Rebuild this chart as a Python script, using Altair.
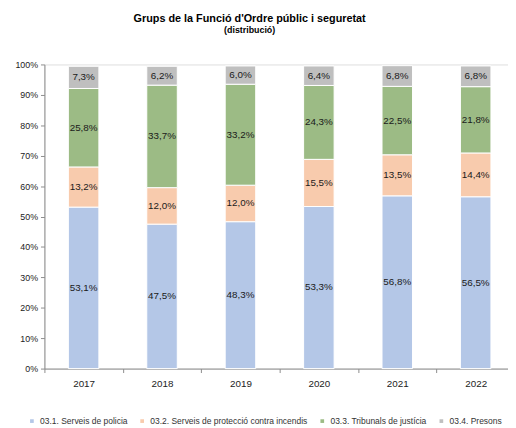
import altair as alt
import pandas as pd

years = ["2017", "2018", "2019", "2020", "2021", "2022"]
categories = [
    "03.1. Serveis de policia",
    "03.2. Serveis de protecció contra incendis",
    "03.3. Tribunals de justícia",
    "03.4. Presons",
]
policia = [53.1, 47.5, 48.3, 53.3, 56.8, 56.5]
incendis = [13.2, 12.0, 12.0, 15.5, 13.5, 14.4]
tribunals = [25.8, 33.7, 33.2, 24.3, 22.5, 21.8]
presons = [7.3, 6.2, 6.0, 6.4, 6.8, 6.8]
colors = ["#b4c7e7", "#f8cbad", "#9cbb85", "#bfbfbf"]
ytick_values = [0, 10, 20, 30, 40, 50, 60, 70, 80, 90, 100]

series = [policia, incendis, tribunals, presons]
rows = []
for ci, (cat, vals) in enumerate(zip(categories, series)):
    for y, v in zip(years, vals):
        rows.append({"year": y, "cat": cat, "ord": ci, "value": v,
                     "label": f"{v:.1f}%".replace(".", ",")})
df = pd.DataFrame(rows)

FONT = "Liberation Sans"
W, H = 471, 309

base = alt.Chart(df).transform_stack(
    stack="value", as_=["y0", "y1"], groupby=["year"],
    sort=[alt.SortField("ord", order="ascending")]
).transform_calculate(mid="(datum.y0 + datum.y1) / 2")

xaxis = alt.Axis(labelAngle=0, tickBand="extent", labelFont=FONT,
                 labelFontSize=10, labelColor="#222", domainColor="#8c8c8c",
                 tickColor="#8c8c8c", tickSize=4, labelPadding=6)
xscale = alt.Scale(paddingInner=0, paddingOuter=0, range=[0, 478])
yaxis = alt.Axis(values=ytick_values, labelExpr="datum.value + '%'", tickCount=11,
                 grid=False, labelFont=FONT, labelFontSize=9, labelColor="#222",
                 domainColor="#8c8c8c", tickColor="#8c8c8c", tickSize=4,
                 labelPadding=3, labelOverlap=False)
yscale = alt.Scale(domain=[0, 100], nice=False)

bars = base.mark_bar(size=31, stroke="white", strokeWidth=1).encode(
    x=alt.X("year:N", title=None, sort=years, scale=xscale, axis=xaxis),
    y=alt.Y("y0:Q", title=None, scale=yscale, axis=yaxis),
    y2="y1:Q",
    color=alt.Color("cat:N", scale=alt.Scale(domain=categories, range=colors),
                    legend=alt.Legend(title=None, orient="none", direction="horizontal",
                                      legendX=-17, legendY=358, padding=0,
                                      symbolType="square",
                                      symbolSize=14, labelFont=FONT, labelFontSize=8.6,
                                      labelColor="#333", columnPadding=10,
                                      labelOffset=4, symbolStrokeWidth=0,
                                      labelLimit=0)),
)

texts = base.mark_text(font=FONT, fontSize=10, color="#1a1a1a").encode(
    x=alt.X("year:N", title=None, sort=years, scale=xscale, axis=xaxis),
    y=alt.Y("mid:Q", title=None, scale=yscale, axis=yaxis),
    text="label:N",
)

chart = alt.layer(bars, texts).properties(
    width=W, height=H,
    autosize=alt.AutoSizeParams(type="none"),
    padding={"left": 37, "top": 54, "right": 0, "bottom": 57},
    title=alt.TitleParams(text="Grups de la Funció d'Ordre públic i seguretat",
                          subtitle="(distribució)", font=FONT, fontSize=11,
                          fontWeight="bold", subtitleFont=FONT, subtitleFontSize=9,
                          subtitleFontWeight="bold", subtitleColor="#000",
                          color="#000", anchor="middle", dx=-27, offset=26,
                          subtitlePadding=2),
).configure_view(fill="#fbfbfb", stroke=None).configure(background="white")

chart.save("out.html", embed_options={"renderer": "svg", "actions": False})
